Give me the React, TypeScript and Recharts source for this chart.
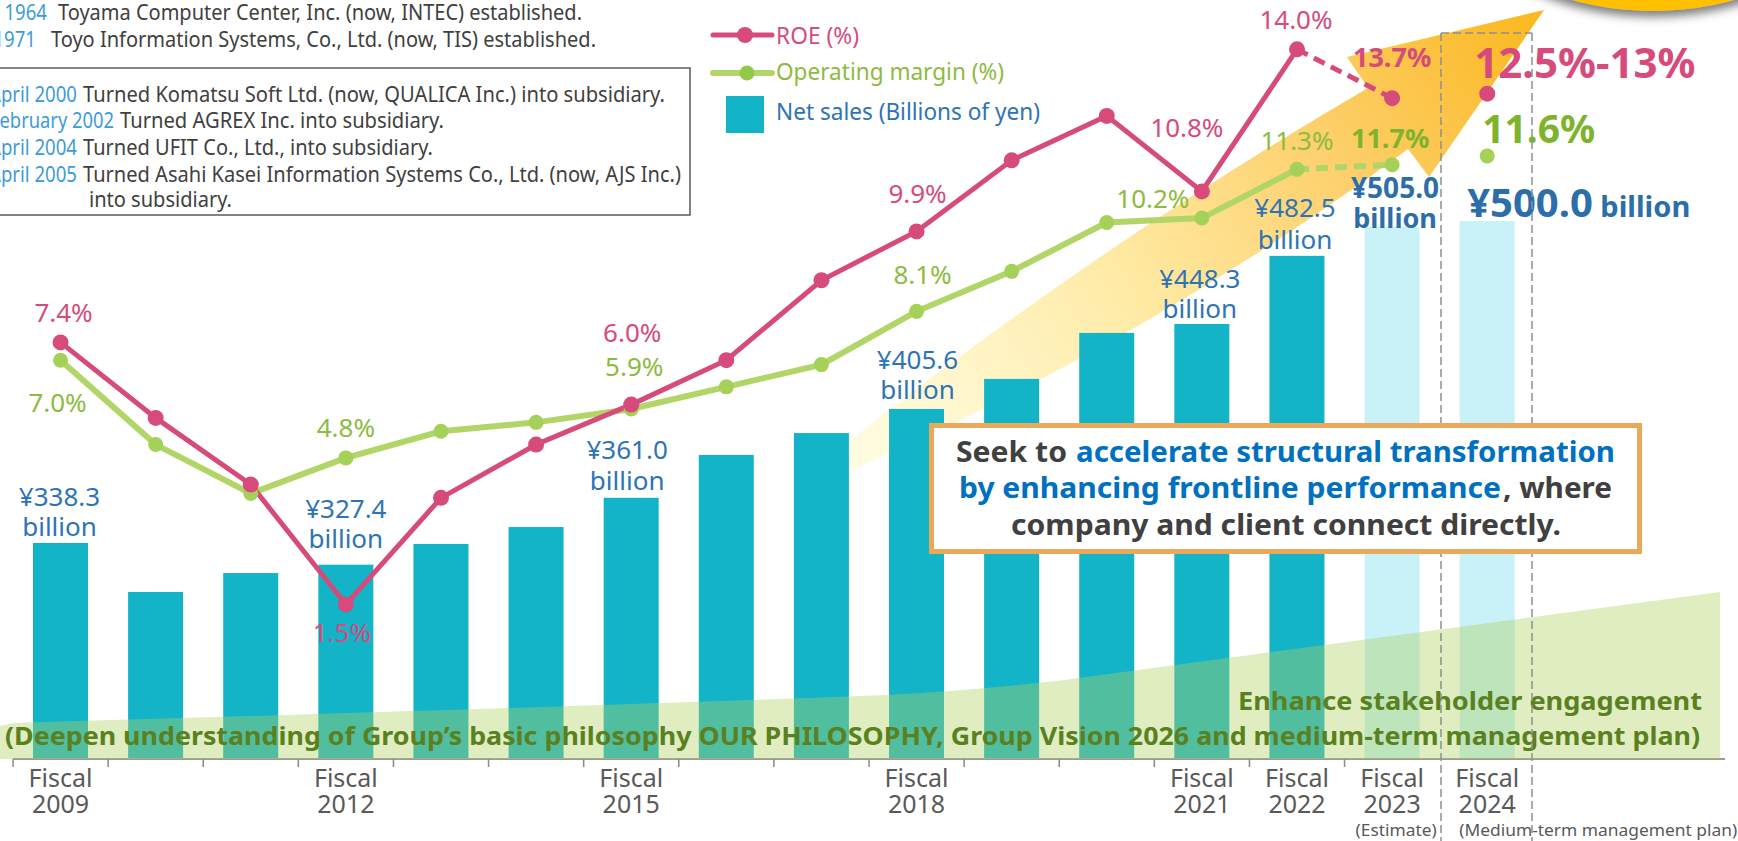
import React from 'react';
import { ComposedChart, Bar, Line, XAxis, YAxis } from 'recharts';

// ---------- data ----------
const years = ['2009', '2010', '2011', '2012', '2013', '2014', '2015', '2016', '2017', '2018', '2019', '2020', '2021', '2022', '2023', '2024'];
const netSales = [338.3, 313.7, 323.2, 327.4, 337.8, 346.3, 361.0, 382.5, 393.5, 405.6, 420.7, 443.8, 448.3, 482.5, 497.0, 500.0];
const roe = [7.4, 5.7, 4.2, 1.5, 3.9, 5.1, 6.0, 7.0, 8.8, 9.9, 11.5, 12.5, 10.8, 14.0, 12.9, 13.0];
const opMargin = [7.0, 5.1, 4.0, 4.8, 5.4, 5.6, 5.9, 6.4, 6.9, 8.1, 9.0, 10.1, 10.2, 11.3, 11.4, 11.6];
const roeLabels: (string | null)[] = ['7.4%', null, null, '1.5%', null, null, '6.0%', null, null, '9.9%', null, null, '10.8%', '14.0%', '13.7%', '12.5%-13%'];
const marginLabels: (string | null)[] = ['7.0%', null, null, '4.8%', null, null, '5.9%', null, null, '8.1%', null, null, '10.2%', '11.3%', '11.7%', '11.6%'];
const salesLabels: (string | null)[] = ['¥338.3', null, null, '¥327.4', null, null, '¥361.0', null, null, '¥405.6', null, null, '¥448.3', '¥482.5', '¥505.0', '¥500.0'];
const salesUnit = 'billion';
const tickTop = 'Fiscal';
const tickYears = ['2009', '', '', '2012', '', '', '2015', '', '', '2018', '', '', '2021', '2022', '2023', '2024'];
const tickNotes = ['', '', '', '', '', '', '', '', '', '', '', '', '', '', '(Estimate)', '(Medium-term management plan)'];
const padCats = ['pad1', 'pad2'];
const LAST_ACTUAL = 13;
const EST = 14;
const PLAN = 15;

const data = [
  ...years.map((y, i) => ({
    cat: y,
    sales: netSales[i],
    roe: i <= LAST_ACTUAL ? roe[i] : null,
    roeEst: i === LAST_ACTUAL || i === EST ? roe[i] : null,
    roePlan: i === PLAN ? roe[i] : null,
    om: i <= LAST_ACTUAL ? opMargin[i] : null,
    omEst: i === LAST_ACTUAL || i === EST ? opMargin[i] : null,
    omPlan: i === PLAN ? opMargin[i] : null,
  })),
  ...padCats.map((c) => ({ cat: c })),
];

// ---------- styles ----------
const FONT = "'Noto Sans', 'Open Sans', sans-serif";
const W = 1738;
const H = 841;
const AXIS_Y = 759;
const BAND = (W - 26) / 18;
const PINK = '#d64b7b';
const GREEN_LINE = '#b1d667';
const GREEN_DOT = '#a5d159';
const GREEN_TEXT = '#8dbb3f';
const GREEN_BOLD = '#7db42c';
const BLUE_TEXT = '#2e74b5';
const TEAL = '#13b3c8';
const LIGHT = '#c8f1f8';
const GRAY = '#404040';

type LPos = { dx: number; dy: number; anchor?: string; size?: number; bold?: boolean; color?: string };
const roeLabelPos: Record<number, LPos> = {
  0: { dx: 3, dy: -20 },
  3: { dx: -4, dy: 38 },
  6: { dx: 1, dy: -63 },
  9: { dx: 1, dy: -28 },
  12: { dx: -15, dy: -54 },
  13: { dx: -1, dy: -20 },
  14: { dx: 0, dy: -31, bold: true, size: 27 },
  15: { dx: -13, dy: -16, anchor: 'start', bold: true, size: 42 },
};
const marginLabelPos: Record<number, LPos> = {
  0: { dx: -3, dy: 52 },
  3: { dx: 0, dy: -21 },
  6: { dx: 3, dy: -33 },
  9: { dx: 6, dy: -27 },
  12: { dx: -49, dy: -10 },
  13: { dx: 0, dy: -19 },
  14: { dx: -2, dy: -17, bold: true, size: 27, color: GREEN_BOLD },
  15: { dx: -5, dy: -13, anchor: 'start', bold: true, size: 39, color: GREEN_BOLD },
};
const salesLabelPos: Record<number, { dx: number; dy1: number; dy2: number }> = {
  0: { dx: -1, dy1: -37, dy2: -7 },
  3: { dx: 0, dy1: -47, dy2: -17 },
  6: { dx: -4, dy1: -39, dy2: -8 },
  9: { dx: 1, dy1: -40, dy2: -10 },
  12: { dx: -2, dy1: -36, dy2: -6 },
  13: { dx: -2, dy1: -39, dy2: -7 },
  14: { dx: 3, dy1: -29, dy2: 1 },
};

function makeDot(fill: string, r: number, indices: number[], labels: (string | null)[], pos: Record<number, LPos>, textColor: string) {
  return (p: any) => {
    const { cx, cy, index } = p;
    if (!Number.isFinite(cx) || !Number.isFinite(cy) || !indices.includes(index)) return <g key={`e${index}`} />;
    const lab = labels[index];
    const ps = pos[index];
    return (
      <g key={`d${index}`}>
        <circle cx={cx} cy={cy} r={r} fill={fill} />
        {lab && ps && (
          <text
            x={cx + ps.dx}
            y={cy + ps.dy}
            textAnchor={(ps.anchor as any) || 'middle'}
            fontSize={ps.size || 26}
            fontWeight={ps.bold ? 700 : 400}
            fill={ps.color || textColor}
            fontFamily={FONT}
          >
            {lab}
          </text>
        )}
      </g>
    );
  };
}

const range = (a: number, b: number) => Array.from({ length: b - a + 1 }, (_, k) => a + k);

const BarShape = (p: any) => {
  const { x, y, width, height, index } = p;
  if (!Number.isFinite(y) || !Number.isFinite(height)) return <g />;
  const fill = index >= EST ? LIGHT : TEAL;
  const cx = x + width / 2;
  const lab = salesLabels[index];
  const ps = salesLabelPos[index];
  return (
    <g>
      <rect x={x} y={y} width={width} height={height} fill={fill} />
      {lab && ps && index !== EST && (
        <g fontFamily={FONT} fontSize={26} fill={BLUE_TEXT} textAnchor="middle">
          <text x={cx + ps.dx} y={y + ps.dy1}>{lab}</text>
          <text x={cx + ps.dx} y={y + ps.dy2}>{salesUnit}</text>
        </g>
      )}
      {lab && ps && index === EST && (
        <g fontFamily={FONT} fontSize={28} fontWeight={700} fill="#2b6ea9" textAnchor="middle">
          <text x={cx + ps.dx} y={y + ps.dy1}>{lab}</text>
          <text x={cx + ps.dx} y={y + ps.dy2} fontSize={27}>{salesUnit}</text>
        </g>
      )}
      {lab && index === PLAN && (
        <text x={cx - 20} y={y - 4} fontFamily={FONT} fontWeight={700} fill="#2b6ea9">
          <tspan fontSize={40}>{lab}</tspan>
          <tspan fontSize={29}>{' ' + salesUnit}</tspan>
        </text>
      )}
    </g>
  );
};

const noteOffset: Record<number, { dx: number; len: number; anchor: string }> = {
  14: { dx: 4, len: 81, anchor: 'middle' },
  15: { dx: -28, len: 278, anchor: 'start' },
};

const renderTick = (p: any) => {
  const { x, payload } = p;
  const i = years.indexOf(payload.value);
  if (i < 0) return <g />;
  const yr = tickYears[i];
  const note = tickNotes[i];
  const no = noteOffset[i];
  return (
    <g fontFamily={FONT}>
      {i < PLAN && <line x1={x - BAND / 2} x2={x - BAND / 2} y1={AXIS_Y} y2={AXIS_Y + 8} stroke="#8a8a8a" strokeWidth={1.5} />}
      {yr && (
        <>
          <text x={x} y={787} textAnchor="middle" fontSize={25} fill="#595959">{tickTop}</text>
          <text x={x} y={813} textAnchor="middle" fontSize={25} fill="#595959">{yr}</text>
        </>
      )}
      {note && no && (
        <text
          x={no.anchor === 'middle' ? x + no.dx - no.len / 2 : x + no.dx}
          y={836}
          fontSize={17}
          fill="#595959"
          textLength={no.len}
          lengthAdjust="spacingAndGlyphs"
        >
          {note}
        </text>
      )}
    </g>
  );
};

const T = (props: any) => <text fontFamily={FONT} lengthAdjust="spacingAndGlyphs" {...props} />;

export default function App() {
  return (
    <div style={{ position: 'absolute', left: 0, top: 0, width: W, height: H, overflow: 'hidden', background: '#fff', fontFamily: FONT }}>
      {/* back decorations */}
      <svg width={W} height={H} style={{ position: 'absolute', left: 0, top: 0 }}>
        <defs>
          <linearGradient id="arrowG" gradientUnits="userSpaceOnUse" x1={840} y1={455} x2={1544} y2={10}>
            <stop offset="0" stopColor="#fffbd6" stopOpacity={0.7} />
            <stop offset="0.4" stopColor="#ffeaa4" />
            <stop offset="0.7" stopColor="#fdcf6a" />
            <stop offset="1" stopColor="#fbb71c" />
          </linearGradient>
          <filter id="sh" x="-20%" y="-20%" width="140%" height="160%">
            <feDropShadow dx="0" dy="6" stdDeviation="5" floodColor="#555" floodOpacity="0.75" />
          </filter>
        </defs>
        <path
          d="M838,450 Q1090,250 1368,88 L1347,57 L1544,10 L1429,177 L1408,149 Q1150,340 852,470 Z"
          fill="url(#arrowG)"
        />
        <circle cx={1653} cy={-293} r={304} fill="#ffc000" filter="url(#sh)" />
      </svg>

      {/* chart */}
      <div style={{ position: 'absolute', left: 0, top: 0 }}>
        <ComposedChart width={W} height={H} data={data} margin={{ top: 0, right: 13, bottom: 0, left: 13 }}>
          <XAxis
            dataKey="cat"
            height={82}
            interval={0}
            tickLine={false}
            axisLine={{ stroke: '#9a9a9a', strokeWidth: 2 }}
            tick={renderTick}
          />
          <YAxis yAxisId="s" hide domain={[229.8, 611]} allowDataOverflow />
          <YAxis yAxisId="p" hide domain={[-1.98, 15.11]} allowDataOverflow />
          <Bar dataKey="sales" yAxisId="s" barSize={55} isAnimationActive={false} shape={BarShape} />
          <Line dataKey="om" yAxisId="p" type="linear" stroke={GREEN_LINE} strokeWidth={6} isAnimationActive={false} activeDot={false}
            dot={makeDot(GREEN_DOT, 7.5, range(0, LAST_ACTUAL), marginLabels, marginLabelPos, GREEN_TEXT)} />
          <Line dataKey="omEst" yAxisId="p" type="linear" stroke={GREEN_LINE} strokeWidth={6} strokeDasharray="12 7" isAnimationActive={false} activeDot={false}
            dot={makeDot(GREEN_DOT, 7.5, [EST], marginLabels, marginLabelPos, GREEN_TEXT)} />
          <Line dataKey="omPlan" yAxisId="p" type="linear" stroke="none" isAnimationActive={false} activeDot={false}
            dot={makeDot(GREEN_DOT, 7.5, [PLAN], marginLabels, marginLabelPos, GREEN_TEXT)} />
          <Line dataKey="roe" yAxisId="p" type="linear" stroke={PINK} strokeWidth={5} isAnimationActive={false} activeDot={false}
            dot={makeDot(PINK, 8, range(0, LAST_ACTUAL), roeLabels, roeLabelPos, PINK)} />
          <Line dataKey="roeEst" yAxisId="p" type="linear" stroke={PINK} strokeWidth={5} strokeDasharray="12 7" isAnimationActive={false} activeDot={false}
            dot={makeDot(PINK, 8, [EST], roeLabels, roeLabelPos, PINK)} />
          <Line dataKey="roePlan" yAxisId="p" type="linear" stroke="none" isAnimationActive={false} activeDot={false}
            dot={makeDot(PINK, 8, [PLAN], roeLabels, roeLabelPos, PINK)} />
        </ComposedChart>
      </div>

      {/* front decorations */}
      <svg width={W} height={H} style={{ position: 'absolute', left: 0, top: 0 }}>
        {/* stakeholder wedge */}
        <path
          d="M0,726 L13,723 Q600,706 887,695 Q980,690 1064,680 L1720,592 L1720,759 L0,759 Z"
          fill="rgb(175,210,97)"
          fillOpacity={0.4}
        />
        <T x={1238} y={710} fontSize={25} fontWeight={700} fill="#5a8020" textLength={464}>Enhance stakeholder engagement</T>
        <T x={5} y={745} fontSize={25} fontWeight={700} fill="#5a8020" textLength={1695}>
          (Deepen understanding of Group’s basic philosophy OUR PHILOSOPHY, Group Vision 2026 and medium-term management plan)
        </T>

        {/* dashed frame for medium-term plan */}
        <g stroke="#8e8e8e" strokeWidth={1.5} strokeDasharray="8 4" fill="none">
          <line x1={1441} x2={1441} y1={33} y2={841} />
          <line x1={1532} x2={1532} y1={33} y2={841} />
          <line x1={1441} x2={1532} y1={33} y2={33} />
        </g>

        {/* callout */}
        <rect x={931.5} y={425.5} width={708} height={126} fill="#fff" stroke="#eaa95a" strokeWidth={5} />
        <g fontSize={29} fontWeight={700}>
          <T x={956} y={462} fill={GRAY} textLength={111}>Seek to</T>
          <T x={1076} y={462} fill="#0070c0" textLength={539}>accelerate structural transformation</T>
          <T x={959} y={498} fill="#0070c0" textLength={542}>by enhancing frontline performance</T>
          <T x={1503} y={498} fill={GRAY} textLength={109}>, where</T>
          <T x={1011} y={535} fill={GRAY} textLength={550}>company and client connect directly.</T>
        </g>

        {/* history notes */}
        <g fontSize={22}>
          <T x={4.5} y={20} fill="#3d9bd9" textLength={42.5}>1964</T>
          <T x={58} y={20} fill={GRAY} textLength={524}>Toyama Computer Center, Inc. (now, INTEC) established.</T>
          <T x={-6.5} y={47} fill="#3d9bd9" textLength={42.5}>1971</T>
          <T x={51} y={47} fill={GRAY} textLength={545}>Toyo Information Systems, Co., Ltd. (now, TIS) established.</T>
          <rect x={-5} y={68} width={695} height={147} fill="none" stroke="#5a5a5a" strokeWidth={1.5} />
          <T x={-11} y={102} fill="#3d9bd9" textLength={88}>April 2000</T>
          <T x={83} y={102} fill={GRAY} textLength={582}>Turned Komatsu Soft Ltd. (now, QUALICA Inc.) into subsidiary.</T>
          <T x={-10} y={128} fill="#3d9bd9" textLength={124}>February 2002</T>
          <T x={120} y={128} fill={GRAY} textLength={324}>Turned AGREX Inc. into subsidiary.</T>
          <T x={-11} y={155} fill="#3d9bd9" textLength={88}>April 2004</T>
          <T x={83} y={155} fill={GRAY} textLength={350}>Turned UFIT Co., Ltd., into subsidiary.</T>
          <T x={-11} y={182} fill="#3d9bd9" textLength={88}>April 2005</T>
          <T x={83} y={182} fill={GRAY} textLength={598}>Turned Asahi Kasei Information Systems Co., Ltd. (now, AJS Inc.)</T>
          <T x={89} y={207} fill={GRAY} textLength={143}>into subsidiary.</T>
        </g>

        {/* legend */}
        <line x1={713} x2={772} y1={35} y2={35} stroke={PINK} strokeWidth={5} strokeLinecap="round" />
        <circle cx={745} cy={35} r={8} fill={PINK} />
        <T x={776} y={44} fontSize={23} fill={PINK} textLength={83}>ROE (%)</T>
        <line x1={713} x2={772} y1={73} y2={73} stroke={GREEN_LINE} strokeWidth={6} strokeLinecap="round" />
        <circle cx={747} cy={73} r={7.5} fill="#93c94a" />
        <T x={776} y={80} fontSize={23} fill={GREEN_TEXT} textLength={228}>Operating margin (%)</T>
        <rect x={726} y={96} width={38} height={37} fill={TEAL} />
        <T x={776} y={120} fontSize={23} fill={BLUE_TEXT} textLength={264}>Net sales (Billions of yen)</T>
      </svg>
    </div>
  );
}
